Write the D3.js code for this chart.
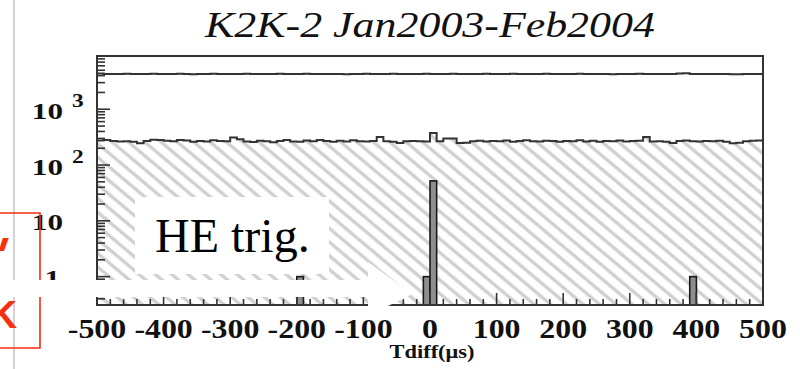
<!DOCTYPE html>
<html>
<head>
<meta charset="utf-8">
<script src="https://cdn.jsdelivr.net/npm/d3@7"></script>
<style>
  html, body { margin: 0; padding: 0; background: #fff; overflow: hidden; }
  svg { display: block; }
</style>
</head>
<body>
<svg id="chart" width="800" height="369"></svg>
<script>
// ---- data -------------------------------------------------------------
const titleText = "K2K-2 Jan2003-Feb2004";
const axisTitle = "Tdiff(μs)";
const panelNote = "HE trig.";

// time difference range and binning (μs)
const tRange = [-500, 500];
const binWidth = 10;

// all triggers per 10 μs bin (upper histogram)
const allTrig = [
  4350, 4300, 4260, 4300, 4320, 4280, 4300, 4270, 4310, 4290,
  4300, 4270, 4320, 4300, 4250, 4300, 4280, 4310, 4290, 4300,
  4260, 4300, 4330, 4290, 4300, 4270, 4300, 4310, 4280, 4300,
  4290, 4320, 4300, 4260, 4300, 4280, 4300, 4240, 4260, 4300,
  4310, 4290, 4300, 4280, 4320, 4300, 4270, 4300, 4290, 4310,
  4300, 4280, 4300, 4320, 4290, 4300, 4270, 4300, 4310, 4290,
  4300, 4280, 4310, 4300, 4270, 4300, 4290, 4310, 4300, 4280,
  4300, 4290, 4310, 4300, 4280, 4300, 4270, 4250, 4300, 4290,
  4300, 4310, 4290, 4300, 4280, 4300, 4300, 4380, 4400, 4300,
  4290, 4300, 4280, 4300, 4290, 4240, 4220, 4300, 4290, 4300
];

// selected events per 10 μs bin (hatched histogram)
const selTrig = [
  275, 280, 270, 265, 268, 262, 245, 270, 285, 280,
  272, 268, 280, 275, 262, 270, 265, 278, 270, 268,
  310, 290, 265, 260, 272, 268, 255, 270, 280, 265,
  262, 275, 268, 280, 270, 262, 272, 265, 278, 268,
  265, 270, 318, 268, 262, 248, 266, 270, 268, 265,
  375, 268, 300, 300, 248, 250, 268, 272, 265, 270,
  268, 275, 262, 270, 278, 268, 265, 272, 270, 262,
  270, 268, 278, 265, 272, 262, 270, 268, 275, 265,
  270, 272, 318, 265, 268, 262, 248, 270, 275, 268,
  265, 270, 268, 272, 262, 245, 250, 268, 272, 275
];

// HE-trigger coincidences: bin start (μs) and counts
const heBinStart = [-200, -10, 0, 390];
const heCounts   = [1, 1, 52, 1];

// axis labels
const xTickValues = [-500, -400, -300, -200, -100, 0, 100, 200, 300, 400, 500];
const yLabelValues = [1, 10, 100, 1000];
const yLabelBase   = ["1", "10", "10", "10"];
const yLabelExp    = ["", "", "2", "3"];

// ---- layout -----------------------------------------------------------
const svg = d3.select("#chart");
const frame = { left: 97, right: 763, top: 56, bottom: 305 };

const x = d3.scaleLinear().domain(tRange).range([frame.left, frame.right]);
const y = d3.scaleLog().domain([0.31, 9000]).range([frame.bottom, frame.top]);

const defs = svg.append("defs");
const pat = defs.append("pattern")
  .attr("id", "hatch")
  .attr("patternUnits", "userSpaceOnUse")
  .attr("width", 10.5).attr("height", 10.5)
  .attr("patternTransform", "rotate(40)");
pat.append("line")
  .attr("x1", -1).attr("x2", 11.5).attr("y1", 5.25).attr("y2", 5.25)
  .attr("stroke", "#d0d0d0").attr("stroke-width", 3.4);

defs.append("clipPath").attr("id", "plotClip")
  .append("rect")
  .attr("x", frame.left).attr("y", frame.top)
  .attr("width", frame.right - frame.left).attr("height", frame.bottom - frame.top);

// the upper red letter is only partly visible on the slide
defs.append("clipPath").attr("id", "redTopClip")
  .append("rect")
  .attr("x", 0).attr("y", 230).attr("width", 40).attr("height", 21);

// step outline points for a histogram
function stepPoints(values) {
  const pts = [];
  values.forEach((v, i) => {
    const x0 = tRange[0] + i * binWidth;
    pts.push([x0, v], [x0 + binWidth, v]);
  });
  return pts;
}

const plot = svg.append("g").attr("clip-path", "url(#plotClip)");

// hatched selected-event histogram
const selPts = stepPoints(selTrig);
plot.append("path")
  .datum(selPts)
  .attr("d", d3.area()
    .x(d => x(d[0]))
    .y0(frame.bottom)
    .y1(d => y(d[1])))
  .attr("fill", "url(#hatch)");

// HE-trigger bars
plot.selectAll("rect.he")
  .data(heBinStart.map((s, i) => ({ s, c: heCounts[i] })))
  .join("rect")
  .attr("class", "he")
  .attr("x", d => x(d.s))
  .attr("width", d => x(d.s + binWidth) - x(d.s))
  .attr("y", d => y(d.c))
  .attr("height", d => frame.bottom - y(d.c))
  .attr("fill", "#8e8e8e")
  .attr("stroke", "#1a1a1a")
  .attr("stroke-width", 1.6);

const stepLine = d3.line().x(d => x(d[0])).y(d => y(d[1]));

plot.append("path")
  .datum(selPts)
  .attr("d", stepLine)
  .attr("fill", "none")
  .attr("stroke", "#333")
  .attr("stroke-width", 2);

plot.append("path")
  .datum(stepPoints(allTrig))
  .attr("d", stepLine)
  .attr("fill", "none")
  .attr("stroke", "#333")
  .attr("stroke-width", 2);

// frame
svg.append("rect")
  .attr("x", frame.left).attr("y", frame.top)
  .attr("width", frame.right - frame.left).attr("height", frame.bottom - frame.top)
  .attr("fill", "none").attr("stroke", "#333").attr("stroke-width", 2);

// y ticks (log, inside the frame)
const yTicks = [];
[0.1, 1, 10, 100, 1000].forEach(dec => {
  for (let m = 1; m <= 9; m++) {
    const v = m * dec;
    if (v >= y.domain()[0] && v <= y.domain()[1]) yTicks.push({ v, major: m === 1 });
  }
});
svg.append("g").selectAll("line")
  .data(yTicks)
  .join("line")
  .attr("x1", frame.left)
  .attr("x2", d => frame.left + (d.major ? 13 : 8))
  .attr("y1", d => y(d.v)).attr("y2", d => y(d.v))
  .attr("stroke", "#333").attr("stroke-width", 1.6);

// x ticks
const xTicksAll = d3.range(tRange[0], tRange[1] + 1, 20);
svg.append("g").selectAll("line")
  .data(xTicksAll)
  .join("line")
  .attr("x1", d => x(d)).attr("x2", d => x(d))
  .attr("y1", frame.bottom)
  .attr("y2", d => frame.bottom - (d % 100 === 0 ? 12 : 6))
  .attr("stroke", "#333").attr("stroke-width", 1.6);

// x tick labels
const serif = "'Liberation Serif', 'Times New Roman', serif";
svg.append("g").selectAll("text")
  .data(xTickValues)
  .join("text")
  .attr("transform", d => `translate(${x(d)},338) scale(1.18,1)`)
  .attr("text-anchor", "middle")
  .attr("font-family", serif).attr("font-weight", "bold")
  .attr("font-size", 27).attr("fill", "#111")
  .text(d => String(d));

// x axis title
svg.append("text")
  .attr("transform", "translate(432,358) scale(1.18,1)")
  .attr("text-anchor", "middle")
  .attr("font-family", serif).attr("font-weight", "bold")
  .attr("font-size", 19).attr("fill", "#111")
  .text(axisTitle);

// y labels with exponents
const yl = svg.append("g");
yLabelValues.forEach((v, i) => {
  const ty = y(v);
  yl.append("text")
    .attr("font-family", serif).attr("font-weight", "bold")
    .attr("font-size", 24).attr("fill", "#111")
    .attr("text-anchor", "end")
    .attr("transform", `translate(${yLabelBase[i] === "10" ? 63 : 60},${ty + 9.5}) scale(1.3,1)`)
    .text(yLabelBase[i]);
  if (yLabelExp[i]) {
    yl.append("text")
      .attr("font-family", serif).attr("font-weight", "bold")
      .attr("font-size", 18).attr("fill", "#111")
      .attr("transform", `translate(72,${ty - 2}) scale(1.3,1)`)
      .text(yLabelExp[i]);
  }
});

// title
const title = svg.append("text")
  .attr("font-family", serif).attr("font-style", "italic")
  .attr("font-size", 35).attr("fill", "#111")
  .attr("text-anchor", "middle")
  .text(titleText);
const tw = title.node().getComputedTextLength();
title.attr("transform", `translate(430,37) scale(${450 / tw},1)`);

// ---- slide overlays ----------------------------------------------------
// light guide line at the slide's left margin
svg.append("line")
  .attr("x1", 14).attr("x2", 14).attr("y1", 0).attr("y2", 369)
  .attr("stroke", "#c4c4c4").attr("stroke-width", 1.5);

// red call-out box with its lettering
const red = "#f4300f";
svg.append("path")
  .attr("d", "M0,213 H40 V348 H0")
  .attr("fill", "none").attr("stroke", red).attr("stroke-width", 1.6);
svg.append("text")
  .attr("x", -17).attr("y", 265)
  .attr("clip-path", "url(#redTopClip)")
  .attr("font-family", "'Liberation Sans', Arial, sans-serif").attr("font-weight", "bold")
  .attr("font-size", 39).attr("fill", red)
  .text("V");
svg.append("text")
  .attr("x", -11).attr("y", 328)
  .attr("font-family", "'Liberation Sans', Arial, sans-serif").attr("font-weight", "bold")
  .attr("font-size", 39).attr("fill", red)
  .text("K");

// white masking band and wedge
svg.append("rect")
  .attr("x", 0).attr("y", 280).attr("width", 368).attr("height", 17)
  .attr("fill", "#fff");
svg.append("polygon")
  .attr("points", "368,262 412,294 388,306 368,306")
  .attr("fill", "#fff");

// label panel
svg.append("rect")
  .attr("x", 135).attr("y", 197).attr("width", 194).attr("height", 77)
  .attr("fill", "#fff");
svg.append("text")
  .attr("x", 155).attr("y", 252)
  .attr("font-family", serif)
  .attr("font-size", 48).attr("fill", "#000")
  .text(panelNote);
</script>
</body>
</html>
